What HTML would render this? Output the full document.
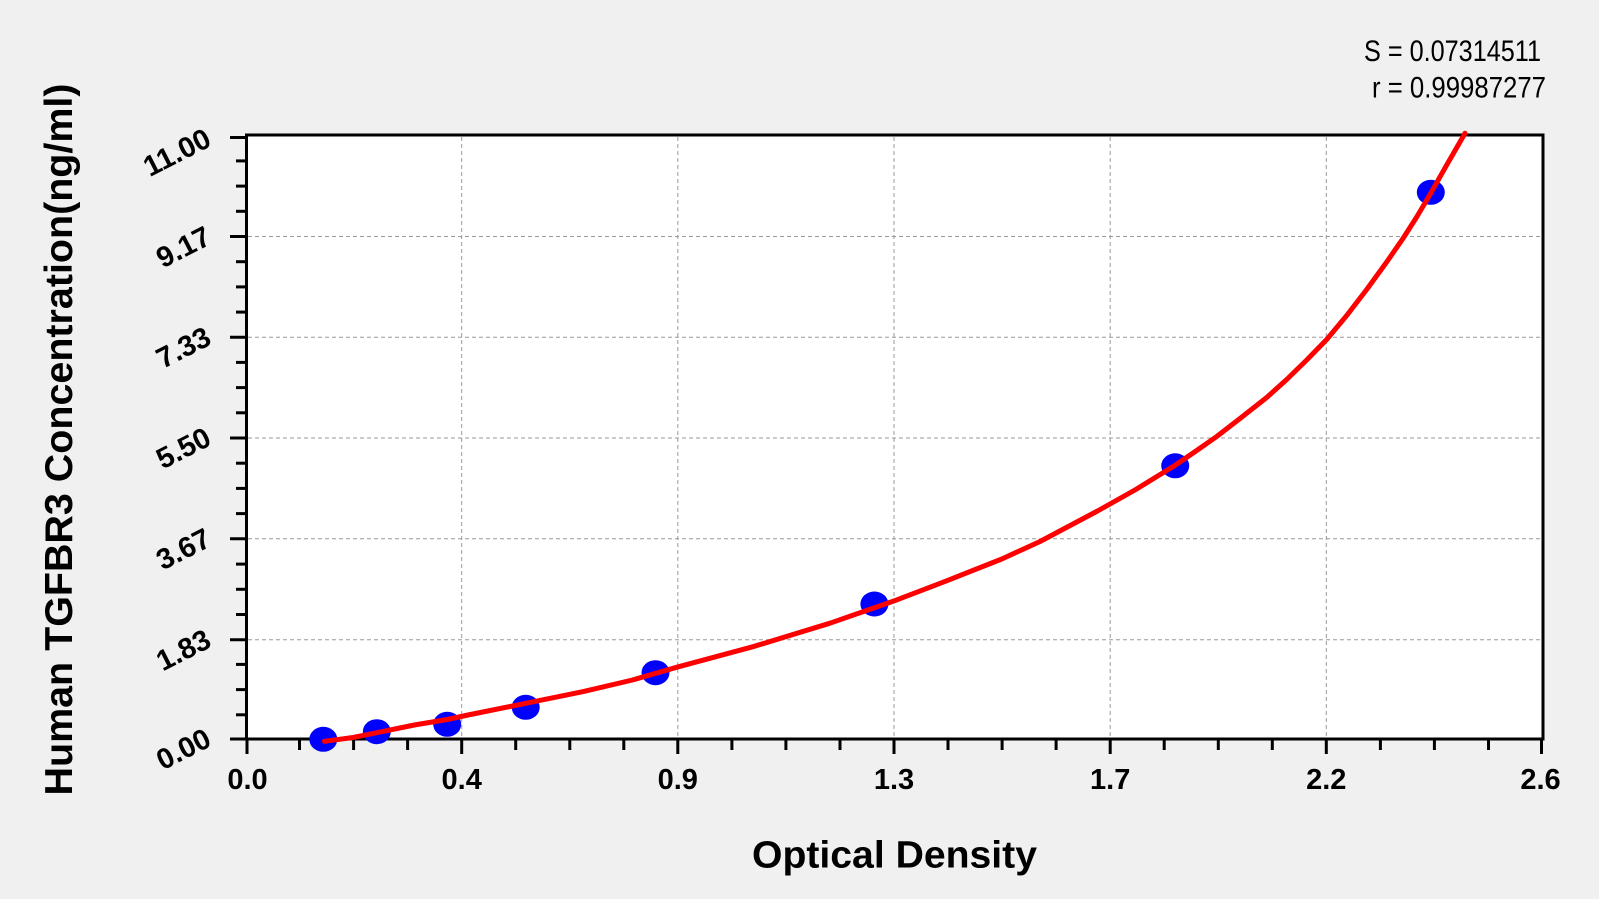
<!DOCTYPE html>
<html>
<head>
<meta charset="utf-8">
<style>
html,body{margin:0;padding:0;background:#f0f0f0;}
svg{display:block;}
text{font-family:"Liberation Sans",Arial,sans-serif;fill:#000;}
</style>
</head>
<body>
<svg width="1599" height="899" viewBox="0 0 1599 899" xmlns="http://www.w3.org/2000/svg">
<rect x="0" y="0" width="1599" height="899" fill="#f0f0f0"/>
<rect x="246.5" y="135" width="1296.5" height="604" fill="#ffffff"/>

<!-- grid -->
<g stroke="#9a9a9a" stroke-width="1" stroke-dasharray="4,3" fill="none">
  <line x1="461.7" y1="137" x2="461.7" y2="737"/>
  <line x1="677.8" y1="137" x2="677.8" y2="737"/>
  <line x1="894" y1="137" x2="894" y2="737"/>
  <line x1="1110.2" y1="137" x2="1110.2" y2="737"/>
  <line x1="1326.3" y1="137" x2="1326.3" y2="737"/>
  <line x1="248" y1="236.5" x2="1541" y2="236.5"/>
  <line x1="248" y1="337.3" x2="1541" y2="337.3"/>
  <line x1="248" y1="438" x2="1541" y2="438"/>
  <line x1="248" y1="538.8" x2="1541" y2="538.8"/>
  <line x1="248" y1="639.7" x2="1541" y2="639.7"/>
</g>

<!-- frame -->
<rect x="246.5" y="135" width="1296.5" height="604" fill="none" stroke="#000" stroke-width="3"/>

<!-- y ticks -->
<g stroke="#000" stroke-width="3">
  <line x1="230" y1="739" x2="247" y2="739"/>
  <line x1="236" y1="714.8" x2="247" y2="714.8"/>
  <line x1="236" y1="689.6" x2="247" y2="689.6"/>
  <line x1="236" y1="664.4" x2="247" y2="664.4"/>
  <line x1="230" y1="639.7" x2="247" y2="639.7"/>
  <line x1="236" y1="614.5" x2="247" y2="614.5"/>
  <line x1="236" y1="589.3" x2="247" y2="589.3"/>
  <line x1="236" y1="564.1" x2="247" y2="564.1"/>
  <line x1="230" y1="538.8" x2="247" y2="538.8"/>
  <line x1="236" y1="513.6" x2="247" y2="513.6"/>
  <line x1="236" y1="488.4" x2="247" y2="488.4"/>
  <line x1="236" y1="463.2" x2="247" y2="463.2"/>
  <line x1="230" y1="438" x2="247" y2="438"/>
  <line x1="236" y1="412.8" x2="247" y2="412.8"/>
  <line x1="236" y1="387.6" x2="247" y2="387.6"/>
  <line x1="236" y1="362.4" x2="247" y2="362.4"/>
  <line x1="230" y1="337.3" x2="247" y2="337.3"/>
  <line x1="236" y1="312.1" x2="247" y2="312.1"/>
  <line x1="236" y1="286.9" x2="247" y2="286.9"/>
  <line x1="236" y1="261.7" x2="247" y2="261.7"/>
  <line x1="230" y1="236.5" x2="247" y2="236.5"/>
  <line x1="236" y1="211.3" x2="247" y2="211.3"/>
  <line x1="236" y1="186.1" x2="247" y2="186.1"/>
  <line x1="236" y1="160.9" x2="247" y2="160.9"/>
  <line x1="230" y1="137.5" x2="247" y2="137.5"/>
</g>

<!-- x ticks -->
<g stroke="#000" stroke-width="3">
  <line x1="247" y1="739" x2="247" y2="754"/>
  <line x1="299.5" y1="739" x2="299.5" y2="750"/>
  <line x1="353.6" y1="739" x2="353.6" y2="750"/>
  <line x1="407.6" y1="739" x2="407.6" y2="750"/>
  <line x1="461.7" y1="739" x2="461.7" y2="754"/>
  <line x1="515.7" y1="739" x2="515.7" y2="750"/>
  <line x1="569.8" y1="739" x2="569.8" y2="750"/>
  <line x1="623.8" y1="739" x2="623.8" y2="750"/>
  <line x1="677.8" y1="739" x2="677.8" y2="754"/>
  <line x1="731.9" y1="739" x2="731.9" y2="750"/>
  <line x1="785.9" y1="739" x2="785.9" y2="750"/>
  <line x1="840" y1="739" x2="840" y2="750"/>
  <line x1="894" y1="739" x2="894" y2="754"/>
  <line x1="948" y1="739" x2="948" y2="750"/>
  <line x1="1002.1" y1="739" x2="1002.1" y2="750"/>
  <line x1="1056.1" y1="739" x2="1056.1" y2="750"/>
  <line x1="1110.2" y1="739" x2="1110.2" y2="754"/>
  <line x1="1164.2" y1="739" x2="1164.2" y2="750"/>
  <line x1="1218.3" y1="739" x2="1218.3" y2="750"/>
  <line x1="1272.3" y1="739" x2="1272.3" y2="750"/>
  <line x1="1326.3" y1="739" x2="1326.3" y2="754"/>
  <line x1="1380.4" y1="739" x2="1380.4" y2="750"/>
  <line x1="1434.4" y1="739" x2="1434.4" y2="750"/>
  <line x1="1488.5" y1="739" x2="1488.5" y2="750"/>
  <line x1="1541.5" y1="739" x2="1541.5" y2="754"/>
</g>

<!-- x tick labels -->
<g font-size="29" font-weight="bold" text-anchor="middle">
  <text x="247.5" y="789">0.0</text>
  <text x="461.7" y="789">0.4</text>
  <text x="677.8" y="789">0.9</text>
  <text x="894" y="789">1.3</text>
  <text x="1110.2" y="789">1.7</text>
  <text x="1326.3" y="789">2.2</text>
  <text x="1540.5" y="789">2.6</text>
</g>

<!-- y tick labels -->
<g font-size="29" font-weight="bold" text-anchor="end">
  <text transform="translate(213,745) rotate(-27)">0.00</text>
  <text transform="translate(213,646) rotate(-27)">1.83</text>
  <text transform="translate(213,545) rotate(-27)">3.67</text>
  <text transform="translate(213,444) rotate(-27)">5.50</text>
  <text transform="translate(213,343.5) rotate(-27)">7.33</text>
  <text transform="translate(213,243) rotate(-27)">9.17</text>
  <text transform="translate(213,145) rotate(-27)">11.00</text>
</g>

<!-- axis titles -->
<text transform="translate(72,795.5) rotate(-90)" font-size="39" font-weight="bold" textLength="712" lengthAdjust="spacingAndGlyphs">Human TGFBR3 Concentration(ng/ml)</text>
<text x="752" y="867.5" font-size="38" font-weight="bold" textLength="285" lengthAdjust="spacingAndGlyphs">Optical Density</text>

<!-- stats -->
<text x="1364" y="61" font-size="30" textLength="177" lengthAdjust="spacingAndGlyphs">S = 0.07314511</text>
<text x="1372" y="97.5" font-size="30" textLength="174" lengthAdjust="spacingAndGlyphs">r = 0.99987277</text>

<!-- points -->
<g fill="#0000ff">
  <ellipse cx="323.3" cy="739.3" rx="14" ry="12.5"/>
  <ellipse cx="376.8" cy="731.7" rx="14" ry="12.5"/>
  <ellipse cx="447.2" cy="724.3" rx="14" ry="12.5"/>
  <ellipse cx="525.7" cy="707.3" rx="14" ry="12.5"/>
  <ellipse cx="655.5" cy="672.7" rx="14" ry="12.5"/>
  <ellipse cx="874.4" cy="604" rx="14" ry="12.5"/>
  <ellipse cx="1175.2" cy="465.8" rx="14" ry="12.5"/>
  <ellipse cx="1430.8" cy="192.3" rx="14" ry="12.5"/>
</g>

<!-- fitted curve -->
<polyline fill="none" stroke="#ff0000" stroke-width="5" stroke-linejoin="round" stroke-linecap="round"
 points="324.4,741.3 353,737.5 376.8,732.7 414.3,725 447.2,719.5 468,715 525.7,703.3 582.7,691.7 632.5,680 676.5,667.3 753,646.7 829.6,623.3 894.7,600.7 944.4,581.7 1001.8,559 1040,541.5 1097.5,511 1135.8,489.5 1174,466 1196,451 1216.7,436.5 1240,418.5 1266.7,397.5 1286.7,379.5 1306.7,360 1326.7,339.5 1346.7,315.5 1366.7,289.5 1386.7,262 1403.3,238 1416.7,217 1430,194.5 1446.7,165 1465,133.3"/>
</svg>
</body>
</html>
